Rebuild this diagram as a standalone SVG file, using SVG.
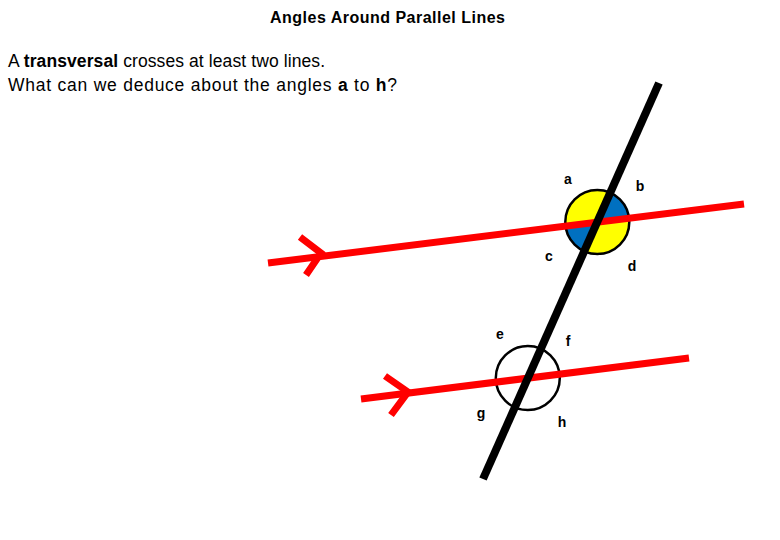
<svg xmlns="http://www.w3.org/2000/svg" width="780" height="540" viewBox="0 0 780 540">
<style>
.t{font-family:"Liberation Sans",Arial,sans-serif;fill:#000}
.lbl{font-family:"Liberation Sans",Arial,sans-serif;font-size:14px;font-weight:bold;fill:#000;text-anchor:middle}
.red{stroke:#ff0000;stroke-width:7;fill:none}
.chev{stroke:#ff0000;stroke-width:7;fill:none;stroke-linejoin:miter}
.blk{stroke:#000;stroke-width:8;fill:none}
.ring{fill:none;stroke:#000;stroke-width:2.5}
</style>
<rect width="780" height="540" fill="#fff"/>
<text class="t" x="270" y="23" font-size="16" font-weight="bold" textLength="235">Angles Around Parallel Lines</text>
<text class="t" x="8" y="67" font-size="17.5" textLength="317">A <tspan font-weight="bold">transversal</tspan> crosses at least two lines.</text>
<text class="t" x="8" y="91" font-size="17.5" textLength="389">What can we deduce about the angles <tspan font-weight="bold">a</tspan> to <tspan font-weight="bold">h</tspan>?</text>
<g id="angles-upper">
<path d="M597.3 221.9 L610.3 192.66 A32 32 0 0 1 629.06 218.03 Z" fill="#0070c0"/>
<path d="M597.3 221.9 L629.06 218.03 A32 32 0 0 1 584.3 251.14 Z" fill="#ffff00"/>
<path d="M597.3 221.9 L584.3 251.14 A32 32 0 0 1 565.54 225.77 Z" fill="#0070c0"/>
<path d="M597.3 221.9 L565.54 225.77 A32 32 0 0 1 610.3 192.66 Z" fill="#ffff00"/>
<circle class="ring" cx="597.3" cy="221.9" r="32"/>
</g>
<g id="angles-lower">
<circle class="ring" cx="527.8" cy="378.1" r="32"/>
</g>
<g id="connectors">
<line id="line-upper" class="red" x1="268" y1="263" x2="744" y2="204"/>
<polyline class="chev" points="300,237 321,253 306,275"/>
<line id="line-lower" class="red" x1="361" y1="399" x2="689" y2="358"/>
<polyline class="chev" points="385,376 408,392 391,415"/>
<line id="transversal" class="blk" x1="659" y1="83" x2="483" y2="479"/>
</g>
<g id="labels">
<text class="lbl" x="568" y="184">a</text>
<text class="lbl" x="640" y="191">b</text>
<text class="lbl" x="549" y="261">c</text>
<text class="lbl" x="632" y="271">d</text>
<text class="lbl" x="500" y="339">e</text>
<text class="lbl" x="568" y="346">f</text>
<text class="lbl" x="481" y="418">g</text>
<text class="lbl" x="562" y="427">h</text>
</g>
</svg>
